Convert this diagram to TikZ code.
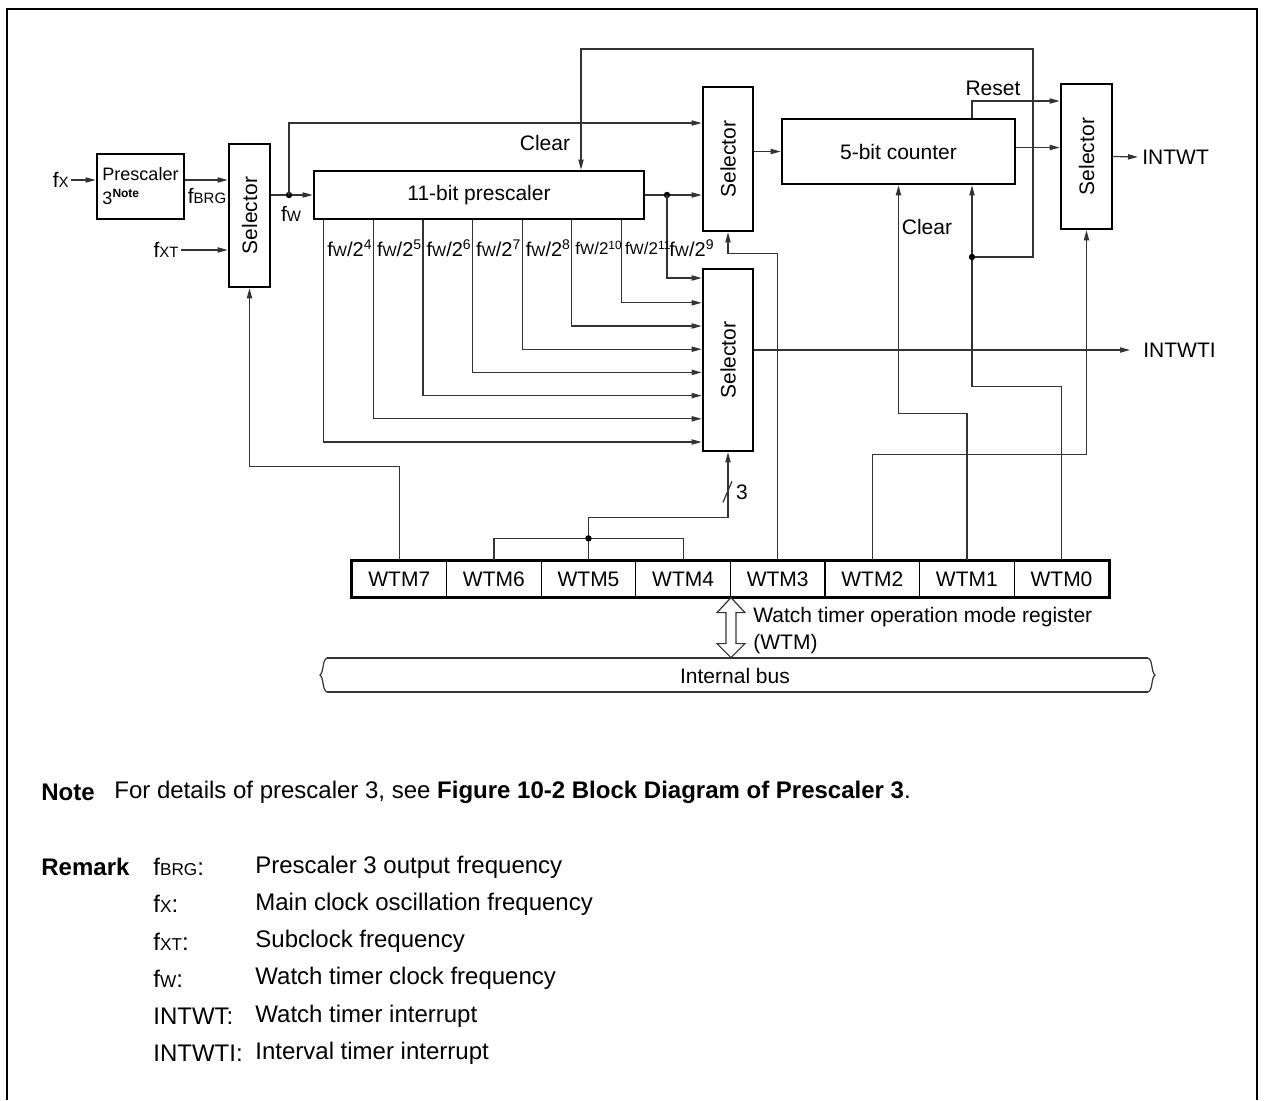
\documentclass[tikz,border=0pt]{standalone}
\usepackage{fontspec}
\setmainfont{Liberation Sans}
\usetikzlibrary{positioning, arrows.meta, calc}

% small capitals after f (fX, fW, fBRG ...)
\newcommand{\sm}[1]{{\fontsize{7.5}{8}\selectfont #1}}
\newcommand{\smb}[1]{{\fontsize{8.6}{9}\selectfont #1}}
\newcommand{\fw}{f\sm{W}}

\begin{document}
\begin{tikzpicture}[
  x=0.5pt, y=-0.5pt,
  >={Triangle[length=5pt, width=2.6pt]},
  font=\fontsize{10.5}{12.6}\selectfont,
  box/.style={draw, line width=1.3pt, inner sep=0pt},
  cell/.style={draw, line width=0.6pt, minimum width=47.3pt,
    minimum height=18pt, inner sep=0pt},
  wire/.style={line width=0.6pt, black!80},
  arr/.style={wire, ->},
  lbl/.style={inner sep=1pt},
  txt/.style={anchor=west, inner sep=0pt},
  rmk/.style={txt, font=\fontsize{12}{14}\selectfont},
]
\useasboundingbox (0,0) rectangle (1264,1100);

% === frame ===
\draw[line width=1pt] (7,1100) -- (7,9) -- (1257,9) -- (1257,1100);

% === blocks ===
\node[box, minimum width=43.5pt, minimum height=32.5pt, align=left,
  font=\fontsize{9}{12}\selectfont] (presc) at (140.5,186.5)
  {Prescaler\\3\textsuperscript{\bfseries Note}};
\node[box, minimum width=20.5pt, minimum height=71.5pt] (sel1) at (249.5,215.5) {};
\node[box, minimum width=165pt, minimum height=24pt] (pre11) at (479,195)
  {11-bit prescaler};
\node[box, minimum width=25pt, minimum height=72pt] (sel2) at (728,159) {};
\node[box, minimum width=25pt, minimum height=91pt] (sel3) at (728,360) {};
\node[box, minimum width=116.5pt, minimum height=32.5pt] (cnt) at (898.5,151.5)
  {5-bit counter};
\node[box, minimum width=25.5pt, minimum height=72.5pt] (sel4) at (1086.5,156.5) {};
\foreach \s in {sel1,sel2,sel3,sel4}
  \node[rotate=90] at (\s) {Selector};

% register WTM
\foreach \b [count=\k from 0] in {7,6,5,4,3,2,1,0}
  \node[cell] (wtm\b) at ({399.3+94.6*\k},579) {WTM\b};
\draw[line width=1.3pt] (wtm7.north west) rectangle (wtm0.south east);

% === clock inputs ===
\node[lbl, anchor=east] (fx) at (71,180) {f\sm{X}};
\draw[arr] (fx.east) -- (fx.east -| presc.west);
\node[lbl, anchor=east] (fxt) at (181,250) {f\sm{XT}};
\draw[arr] (fxt.east) -- (fxt.east -| sel1.west);
\draw[arr] (presc.east |- fx) -- (sel1.west |- fx);
\node[lbl] (fbrg) at (207,196) {f\sm{BRG}};

% fW
\coordinate (fwdot) at (289,195);
\draw[arr] (sel1.east |- pre11) -- (pre11.west);
\fill (fwdot) circle (1.6pt);
\node[lbl] (fwl) at (291,214) {\fw};
\draw[arr] (fwdot) |- ([yshift=18pt]sel2.west);

% 11-bit prescaler outputs
\coordinate (pdot) at (667,195);
\draw[arr] (pre11.east) -- ([yshift=-18pt]sel2.west);
\fill (pdot) circle (1.6pt);
\draw[arr] (pdot) |- ([yshift=41pt]sel3.west);
\foreach \e/\s [count=\k from 0] in {4/10,5/10,6/10,7/10,8/10,10/8.5,11/8.5} {
  \draw[arr] ([xshift=5.5pt+24.8pt*\k]pre11.south west)
    |- ([yshift=-41pt+11.6pt*\k]sel3.west);
  \node[lbl, anchor=west, inner xsep=0.5pt, font=\fontsize{\s}{12}\selectfont]
    (tap\e) at ({326+49.6*\k},248) {\fw/2\textsuperscript{\e}};
}
\node[lbl, anchor=west, inner xsep=0.5pt, font=\fontsize{10}{12}\selectfont]
  (tap9) at (668,248) {\fw/2\textsuperscript{9}};

% INTWTI
\node[anchor=west, inner xsep=6.5pt] (intwti) at (1130,350) {INTWTI};
\draw[arr] ([yshift=5pt]sel3.east) -- (intwti.west);

% counter and INTWT
\draw[arr] (sel2.east |- cnt) -- (cnt.west);
\draw[arr] ([yshift=2pt]cnt.east) -- ([yshift=2pt]cnt.east -| sel4.west);
\draw[arr] ([xshift=36.75pt]cnt.north) |- ([yshift=27.75pt]sel4.west);
\node[lbl] (reset) at (993,88) {Reset};
\node[anchor=west, inner xsep=2pt] (intwt) at (1138,157) {INTWT};
\draw[arr] (sel4.east) -- (intwt.west);

% clear of the 11-bit prescaler
\coordinate (cdot) at (972,257);
\coordinate (ctop) at (1033,49);
\draw[arr] (cdot) -| (ctop) -| ([xshift=51pt]pre11.north);
\node[lbl] (clr1) at (545,143) {Clear};

% === register bits ===
\draw[arr] (wtm0.north) -- ++(0,-174) -| ([xshift=36.75pt]cnt.south);
\fill (cdot) circle (1.6pt);
\draw[arr] (wtm1.north) -- ++(0,-147) -| (cnt.south);
\node[lbl] (clr2) at (927,227) {Clear};
\draw[arr] (wtm2.north) -- ++(0,-106) -| (sel4.south);
\draw[arr] (wtm3.north) -- ++(0,-307) -| (sel2.south);
\draw[wire] (wtm6.north) -- ++(0,-22) -| (wtm4.north);
\draw[arr] (wtm5.north) -- ++(0,-43) -| (sel3.south);
\fill ($(wtm5.north)+(0,-22)$) circle (1.6pt);
\draw[wire] ($(sel3.south)+(-5,50)$) -- ++(9,-21);
\node[lbl] (three) at (742,492) {3};
\draw[arr] (wtm7.north) -- ++(0,-94) -| (sel1.south);

% === bus ===
\draw[wire, fill=white] (wtm4.south east) -- ++(14,15) -- ++(-9,0) -- ++(0,31)
  -- ++(9,0) -- ++(-14,14) -- ++(-14,-14) -- ++(9,0) -- ++(0,-31)
  -- ++(-9,0) -- cycle;
\node[txt, align=left, font=\fontsize{10.5}{13.5}\selectfont] (wtmlbl)
  at (753,631) {Watch timer operation mode register\\(WTM)};
\draw[wire] (327,658) -- (1148,658);
\draw[wire] (327,692) -- (1148,692);
\draw[wire] (327,658) .. controls (322,660) and (324,672) .. (320,675)
  .. controls (324,678) and (322,690) .. (327,692);
\draw[wire] (1148,658) .. controls (1153,660) and (1151,672) .. (1155,675)
  .. controls (1151,678) and (1153,690) .. (1148,692);
\node (bus) at (735,676) {Internal bus};

% === note and remark ===
\node[rmk, font=\fontsize{12}{14}\selectfont\bfseries] (note) at (41,792) {Note};
\node[rmk] (notetxt) at (114,792)
  {For details of prescaler 3, see \textbf{Figure 10-2 Block Diagram of Prescaler 3}.};
\node[rmk, font=\fontsize{12}{14}\selectfont\bfseries] (remark) at (41,867) {Remark};
\foreach \t/\d [count=\k from 0] in {
    f\smb{BRG}:/Prescaler 3 output frequency,
    f\smb{X}:/Main clock oscillation frequency,
    f\smb{XT}:/Subclock frequency,
    f\smb{W}:/Watch timer clock frequency,
    INTWT:/Watch timer interrupt,
    INTWTI:/Interval timer interrupt} {
  \node[rmk] (rk\k) at (153,{867+37.2*\k}) {\t};
  \node[rmk] (rd\k) at (255,{867+37.2*\k}) {\d};
}
\end{tikzpicture}
\end{document}
